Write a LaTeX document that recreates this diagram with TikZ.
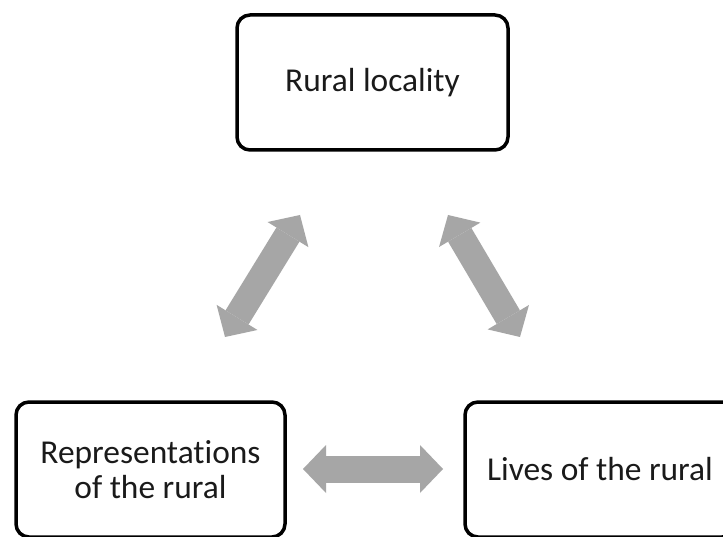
\documentclass[tikz,border=0pt]{standalone}
\usepackage{fontspec}
\setmainfont{Carlito}[Ligatures={NoCommon}, RawFeature={-liga;-clig;-dlig}]
\usetikzlibrary{arrows.meta}
\definecolor{arrowgray}{HTML}{A6A6A6}
\definecolor{textdark}{HTML}{1A1A1A}

\begin{document}
\begin{tikzpicture}[x=1pt,y=1pt,
  topic/.style={draw=black, line width=3.5pt, rounded corners=13pt,
    minimum width=271pt, minimum height=135pt, align=center,
    text=textdark, font=\fontsize{33.4}{35}\selectfont, inner sep=0pt},
  link/.style={draw=arrowgray, line width=27pt, {Triangle[width=48pt,length=23pt,line width=0pt]}-{Triangle[width=48pt,length=23pt,line width=0pt]}}
]
\fill[white] (0,0) rectangle (723,536);
\useasboundingbox (0,0) rectangle (723,536);

% the three boxes
\node[topic] (locality) at (372.5,453.5) {Rural locality};
\node[topic, minimum width=269pt] (repr) at (150.5,66.5) {Representations\\of the rural};
\node[topic, minimum width=270pt] (lives) at (600,66.5) {Lives of the rural};

% end points of the block arrows
\coordinate (lA) at (225,199);
\coordinate (lB) at (300,321);
\coordinate (rA) at (448,321);
\coordinate (rB) at (520,199);
\coordinate (hA) at (303,67);
\coordinate (hB) at (443,67);

\draw[link] (lA) -- (lB);
\draw[link] (rA) -- (rB);
\draw[link] (hA) -- (hB);
\end{tikzpicture}
\end{document}
